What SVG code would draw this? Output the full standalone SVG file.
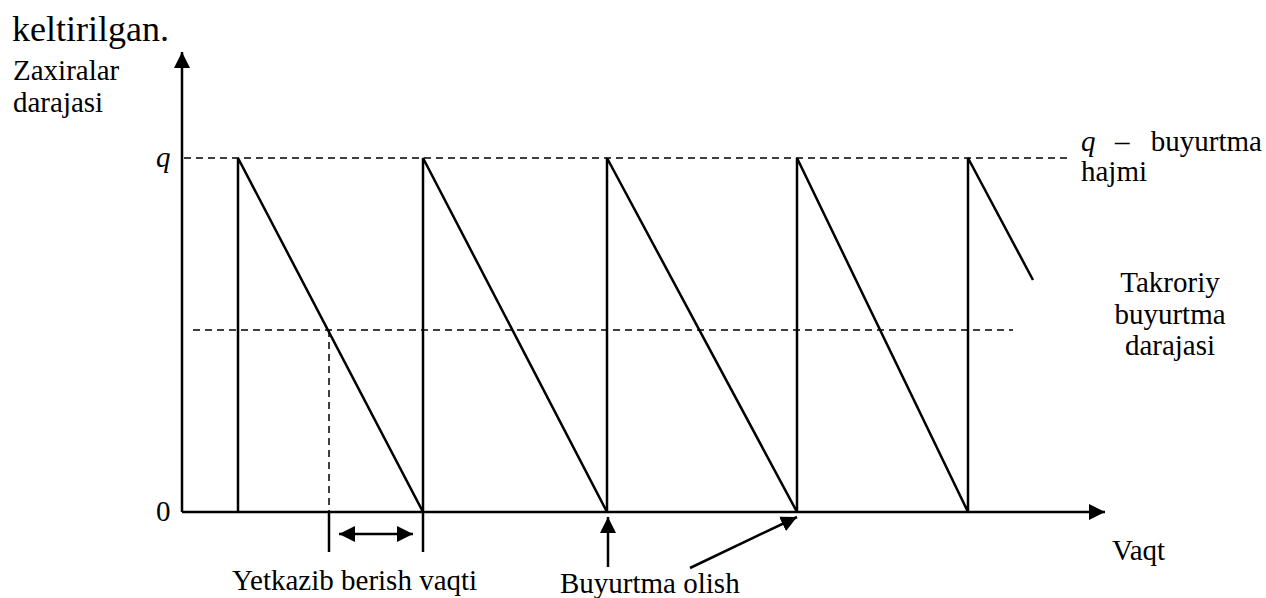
<svg xmlns="http://www.w3.org/2000/svg" width="1266" height="598" viewBox="0 0 1266 598">
<style>
.solid{stroke:#000;stroke-width:2.5;fill:none}
.dash{stroke:#000;stroke-width:1.5;fill:none;stroke-dasharray:7 5}
</style>
<defs>
<marker id="ah" viewBox="0 0 10 10" refX="10" refY="5" markerWidth="16" markerHeight="16" markerUnits="userSpaceOnUse" orient="auto-start-reverse">
<path d="M0,0 L10,5 L0,10 z" fill="#000"/>
</marker>
</defs>
<rect width="1266" height="598" fill="#fff"/>
<text font-family="Liberation Serif" font-size="36" x="12" y="41">keltirilgan.</text>
<g id="axes">
<line class="solid" x1="182" y1="512" x2="182" y2="52" marker-end="url(#ah)"/>
<line class="solid" x1="182" y1="512" x2="1105" y2="512" marker-end="url(#ah)"/>
</g>
<g id="label-y-axis">
<text font-family="Liberation Serif" font-size="29" x="13" y="80">Zaxiralar</text>
<text font-family="Liberation Serif" font-size="29" x="13" y="112">darajasi</text>
</g>
<g id="label-q">
<text font-family="Liberation Serif" font-size="29" font-style="italic" x="156" y="167">q</text>
</g>
<g id="label-zero">
<text font-family="Liberation Serif" font-size="29" x="156" y="521">0</text>
</g>
<g id="label-order-size">
<text font-family="Liberation Serif" font-size="29" font-style="italic" x="1081" y="151">q</text>
<text font-family="Liberation Serif" font-size="29" x="1115" y="151">–</text>
<text font-family="Liberation Serif" font-size="29" x="1262" y="151" text-anchor="end">buyurtma</text>
<text font-family="Liberation Serif" font-size="29" x="1081" y="181">hajmi</text>
</g>
<g id="label-reorder">
<text font-family="Liberation Serif" font-size="29" x="1170" y="292" text-anchor="middle">Takroriy</text>
<text font-family="Liberation Serif" font-size="29" x="1170" y="324" text-anchor="middle">buyurtma</text>
<text font-family="Liberation Serif" font-size="29" x="1170" y="355" text-anchor="middle">darajasi</text>
</g>
<g id="label-time">
<text font-family="Liberation Serif" font-size="29" x="1112" y="560">Vaqt</text>
</g>
<g id="label-lead">
<text font-family="Liberation Serif" font-size="29" x="232" y="590">Yetkazib berish vaqti</text>
</g>
<g id="label-receive">
<text font-family="Liberation Serif" font-size="29" x="560" y="593">Buyurtma olish</text>
</g>
<g id="levels">
<line class="dash" x1="184" y1="158" x2="1068" y2="158"/>
<line class="dash" x1="193" y1="330" x2="1013" y2="330"/>
<line class="dash" x1="329" y1="330" x2="329" y2="512"/>
</g>
<g id="sawtooth">
<polyline class="solid" points="238,512 238,158 423,512 423,158 607,512 607,158 797,512 797,158 968,512 968,158 1033,280"/>
</g>
<g id="connectors">
<line class="solid" x1="329" y1="512" x2="329" y2="552"/>
<line class="solid" x1="423" y1="512" x2="423" y2="552"/>
<line class="solid" x1="339" y1="534" x2="413" y2="534" marker-start="url(#ah)" marker-end="url(#ah)"/>
<line class="solid" x1="608" y1="567" x2="608" y2="517" marker-end="url(#ah)"/>
<line class="solid" x1="690" y1="568" x2="797" y2="517" marker-end="url(#ah)"/>
</g>
</svg>
